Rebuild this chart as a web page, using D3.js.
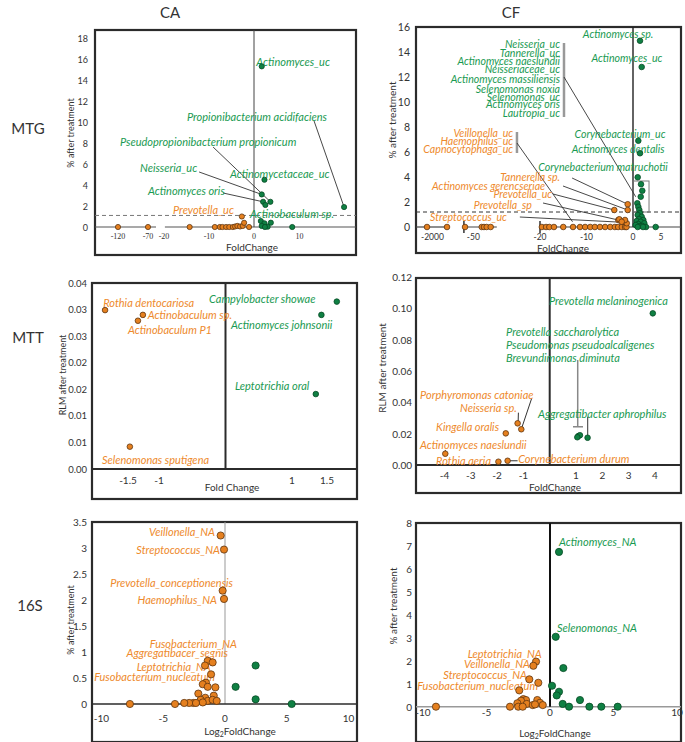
<!DOCTYPE html>
<html><head><meta charset="utf-8">
<script src="https://cdn.jsdelivr.net/npm/d3@7"></script>
<style>body{margin:0;background:#fff}svg{display:block}text{font-family:Lato,"Open Sans",sans-serif}</style>
</head><body>
<script>
// ---------------- DATA ----------------
// MTG / CA
const mtgCA_down = [[-120,0],[-70,0],[-14.3,0],[-8.7,0],[-7.6,0],[-7.0,0],[-6.2,0],[-5.5,0],[-4.7,0],[-4.2,0.05],[-3.7,0.1],[-3.1,0.05],[-2.5,0.1],[-2.2,0.4],[-1.1,0],[-2.7,1.0]];
const mtgCA_up = [[1.7,15.3],[19.8,1.9],[2.3,4.5],[1.7,3.1],[3.6,2.4],[2.0,2.4],[2.5,2.1],[1.5,0.57],[2.3,0.35],[3.7,0.41],[1.7,0.1],[3.0,0.03],[2.4,0],[8.4,0]];
const mtgCA_xTicks = [-120,-70,-20,-10,0,10];
const mtgCA_yTicks = [0,2,4,6,8,10,12,14,16,18];
// MTG / CF
const mtgCF_down = [[-2000,0],[-1000,0],[-58.9,0],[-41,0],[-38.6,0],[-35.7,0],[-31.4,0],
  [-19.6,0],[-18.7,0],[-18.0,0],[-17.0,0],[-15.0,0],[-12.9,0],[-11.4,0],[-10.3,0],[-9.2,0],[-8.2,0],[-7.1,0],[-6.0,0],[-4.9,0],[-3.9,0],[-3.2,0],[-2.4,0],[-1.7,0],[-1.4,0],
  [-1.14,1.82],[-1.14,1.36],[-4.02,1.36],[-3.16,0.56],[-2.15,0.42],[-1.35,0.3],[-2.95,0.62],[-1.72,0.56],[-2.43,0.42]];
const mtgCF_up = [[1.25,14.9],[1.55,12.8],[0.95,6.9],[1.25,5.9],
  [0.84,3.98],[1.43,3.42],[1.66,2.9],[1.38,2.42],[0.77,1.9],[0.95,1.62],[1.13,1.36],[1.25,1.1],[0.84,0.96],[1.55,0.82],[1.07,0.64],[1.84,0.56],[0.66,0.48],[1.38,0.42],[2.02,0.3],[0.95,0.24],[0.48,0.16],[1.25,0.08],[1.66,0.08],[2.32,0],[4.05,0],[0.84,0],[1.79,0]];
const mtgCF_xTicks = [-2000,-50,-20,-10,0,5];
const mtgCF_yTicks = [0,2,4,6,8,10,12,14,16];
// MTT / CA
const mttCA_down = [[-1.87,0.0299],[-1.26,0.029],[-1.34,0.0279],[-1.47,0.0042]];
const mttCA_up = [[1.64,0.0315],[1.42,0.029],[1.34,0.0141]];
const mttCA_xTicks = [-1.5,-1,1,1.5];
const mttCA_yTicks = [0,0.005,0.01,0.015,0.02,0.025,0.03,0.035];
const mttCA_yTickLabels = ["0.00","0.01","0.01","0.02","0.02","0.03","0.03","0.04"];
// MTT / CF
const mttCF_down = [[-1.08,0.0228],[-1.22,0.0266],[-1.67,0.0202],[-3.97,0.0072],[-1.95,0.0021],[-1.6,0.0027]];
const mttCF_up = [[3.92,0.0968],[1.44,0.0174],[1.09,0.0185],[1.15,0.019],[1.05,0.0177]];
const mttCF_xTicks = [-4,-3,-2,-1,1,2,3,4];
const mttCF_yTicks = [0,0.02,0.04,0.06,0.08,0.10,0.12];
// 16S / CA
const s16CA_down = [[-0.35,3.24],[-0.08,2.97],[-0.19,2.18],[-0.08,2.02],[-1.4,0.83],[-1.0,0.8],[-1.62,0.74],[-1.13,0.57],[-1.54,0.41],[-1.8,0.38],[-1.4,0.33],[-0.78,0.32],[-2.16,0.2],[-1.6,0.12],[-0.91,0.16],[-1.97,0.08],[-1.4,0.06],[-1.0,0.08],[-0.67,0.06],[-2.56,0.02],[-1.8,0.03],[-2.9,0.02],[-3.3,0.02],[-2.35,0.02],[-4.05,0],[-7.7,0]];
const s16CA_up = [[2.48,0.74],[0.86,0.33],[2.48,0.09],[5.4,0]];
const s16CA_xTicks = [-10,-5,0,5,10];
const s16CA_yTicks = [0,0.5,1,1.5,2,2.5,3,3.5];
// 16S / CF
const s16CF_down = [[-1.10,1.96],[-1.31,1.78],[-1.63,1.19],[-0.92,1.04],[-2.42,0.71],[-2.1,0.33],[-1.89,0.29],[-2.28,0.26],[-2.57,0.15],[-1.0,0.29],[-0.79,0.17],[-0.57,0.07],[-1.83,0.12],[-1.36,0.07],[-1.18,0.10],[-2.5,0],[-2.15,0],[-3.15,0],[-8.98,0]];
const s16CF_up = [[0.71,6.73],[0.45,3.04],[1.05,1.68],[0.16,0.91],[0.71,0.65],[0.53,0.49],[2.36,0.29],[1.0,0.12],[1.5,0],[3.1,0],[4.04,0],[5.33,0]];
const s16CF_xTicks = [-10,-5,0,5,10];
const s16CF_yTicks = [0,1,2,3,4,5,6,7,8];

// ---------------- ANNOTATIONS (anchors in data units) ----------------
const mtgCA_labels = [
 {t:"Actinomyces_uc",x:8.6,y:15.74,a:"middle",c:"g"},
 {t:"Propionibacterium acidifaciens",x:-14.9,y:10.5,a:"start",c:"g"},
 {t:"Pseudopropionibacterium propionicum",x:-116.7,y:8.1,a:"start",c:"g"},
 {t:"Neisseria_uc",x:-83.3,y:5.71,a:"start",c:"g"},
 {t:"Actinomycetaceae_uc",x:-5.33,y:5.05,a:"start",c:"g"},
 {t:"Actinomyces oris",x:-70,y:3.43,a:"start",c:"g"},
 {t:"Actinobaculum sp.",x:-0.89,y:1.33,a:"start",c:"g"},
 {t:"Prevotella_uc",x:-18,y:1.71,a:"start",c:"o"}];
const mtgCA_leaders = [[[13.2,10.1],[19.8,1.9]],[[-9.1,7.62],[3.6,2.4]],[[-12.2,5.24],[1.7,3.1]],[[-6.9,3.24],[2.0,2.4]]];

const mtgCF_labels = [
 {t:"Neisseria_uc",x:-15.7,y:14.64,a:"end",c:"g"},
 {t:"Tannerella_uc",x:-15.7,y:13.94,a:"end",c:"g"},
 {t:"Actinomyces naeslundii",x:-15.7,y:13.28,a:"end",c:"g"},
 {t:"Neisseriaceae_uc",x:-15.7,y:12.62,a:"end",c:"g"},
 {t:"Actinomyces massiliensis",x:-15.7,y:11.86,a:"end",c:"g"},
 {t:"Selenomonas noxia",x:-15.7,y:11.06,a:"end",c:"g"},
 {t:"Selenomonas_uc",x:-15.7,y:10.42,a:"end",c:"g"},
 {t:"Actinomyces oris",x:-15.7,y:9.84,a:"end",c:"g"},
 {t:"Lautropia_uc",x:-15.7,y:9.1,a:"end",c:"g"},
 {t:"Veillonella_uc",x:-25.6,y:7.52,a:"end",c:"o"},
 {t:"Haemophilus_uc",x:-25.6,y:6.88,a:"end",c:"o"},
 {t:"Capnocytophaga_uc",x:-25.6,y:6.24,a:"end",c:"o"},
 {t:"Tannerella sp.",x:-15.7,y:4.0,a:"end",c:"o"},
 {t:"Actinomyces gerencseriae",x:-18.9,y:3.28,a:"end",c:"o"},
 {t:"Prevotella_uc",x:-17.4,y:2.64,a:"end",c:"o"},
 {t:"Prevotella_sp",x:-21.7,y:1.76,a:"end",c:"o"},
 {t:"Streptococcus_uc",x:-26.9,y:0.8,a:"end",c:"o"},
 {t:"Actinomyces sp.",x:-3.2,y:15.44,a:"middle",c:"g"},
 {t:"Actinomyces_uc",x:-1.3,y:13.52,a:"middle",c:"g"},
 {t:"Corynebacterium_uc",x:-2.8,y:7.44,a:"middle",c:"g"},
 {t:"Actinomyces dentalis",x:-3.2,y:6.24,a:"middle",c:"g"},
 {t:"Corynebacterium matruchotii",x:-6.45,y:4.8,a:"middle",c:"g"}];
const mtgCF_bars = [[[-14.84,14.72],[-14.84,8.8]],[[-24.8,7.6],[-24.8,5.92]]];
const mtgCF_leaders = [[[-14.84,12.0],[0.48,2.42]],[[-24.8,6.72],[-13.0,0.42]],[[-13.1,3.92],[-1.14,1.82]],[[-15.05,3.28],[-1.14,1.36]],[[-17.2,2.64],[-4.02,1.36]],[[-19.35,1.92],[-3.16,0.56]],[[-24.2,0.8],[-3.4,0.4]]];

const mttCA_labels = [
 {t:"Rothia dentocariosa",x:-1.90,y:0.03142,a:"start",c:"o"},
 {t:"Actinobaculum sp.",x:-1.18,y:0.02898,a:"start",c:"o"},
 {t:"Actinobaculum P1",x:-1.5,y:0.02616,a:"start",c:"o"},
 {t:"Selenomonas sputigena",x:-1.92,y:0.00188,a:"start",c:"o"},
 {t:"Campylobacter showae",x:-0.248,y:0.032,a:"start",c:"g"},
 {t:"Actinomyces johnsonii",x:0.083,y:0.0271,a:"start",c:"g"},
 {t:"Leptotrichia oral",x:0.143,y:0.01562,a:"start",c:"g"}];

const mttCF_labels = [
 {t:"Prevotella melaninogenica",x:-0.03,y:0.1049,a:"start",c:"g"},
 {t:"Prevotella saccharolytica",x:-1.66,y:0.0849,a:"start",c:"g"},
 {t:"Pseudomonas pseudoalcaligenes",x:-1.66,y:0.0766,a:"start",c:"g"},
 {t:"Brevundimonas diminuta",x:-1.66,y:0.0683,a:"start",c:"g"},
 {t:"Aggregatibacter aphrophilus",x:-0.445,y:0.033,a:"start",c:"g"},
 {t:"Porphyromonas catoniae",x:-4.93,y:0.0447,a:"start",c:"o"},
 {t:"Neisseria sp.",x:-3.41,y:0.0366,a:"start",c:"o"},
 {t:"Kingella oralis",x:-4.32,y:0.0244,a:"start",c:"o"},
 {t:"Actinomyces naeslundii",x:-4.93,y:0.0128,a:"start",c:"o"},
 {t:"Rothia aeria",x:-4.32,y:0.0027,a:"start",c:"o"},
 {t:"Corynebacterium durum",x:-1.2,y:0.0043,a:"start",c:"o"}];
const mttCF_bars = [[[1.065,0.067],[1.065,0.0244]],[[0.886,0.0244],[1.266,0.0244]]];
const mttCF_leaders = [[[1.445,0.0308],[1.445,0.0181]],[[-0.684,0.0426],[-1.08,0.0228]],[[-1.19,0.0334],[-1.2,0.0272]],[[-3.97,0.0096],[-3.97,0.0072]],[[-1.57,0.0027],[-1.22,0.0027]]];

const s16CA_labels = [
 {t:"Veillonella_NA",x:-0.81,y:3.313,a:"end",c:"o"},
 {t:"Streptococcus_NA",x:-0.40,y:2.962,a:"end",c:"o"},
 {t:"Prevotella_conceptionensis",x:0.65,y:2.327,a:"end",c:"o"},
 {t:"Haemophilus_NA",x:-0.65,y:2.019,a:"end",c:"o"},
 {t:"Fusobacterium_NA",x:0.97,y:1.173,a:"end",c:"o"},
 {t:"Aggregatibacer_segnis",x:0.24,y:0.987,a:"end",c:"o"},
 {t:"Leptotrichia_NA",x:-1.16,y:0.717,a:"end",c:"o"},
 {t:"Fusobacterium_nucleatum",x:-0.81,y:0.525,a:"end",c:"o"}];
const s16CF_labels = [
 {t:"Actinomyces_NA",x:0.71,y:7.17,a:"start",c:"g"},
 {t:"Selenomonas_NA",x:0.55,y:3.45,a:"start",c:"g"},
 {t:"Leptotrichia_NA",x:-0.65,y:2.32,a:"end",c:"o"},
 {t:"Veillonella_NA",x:-1.57,y:1.86,a:"end",c:"o"},
 {t:"Streptococcus_NA",x:-1.81,y:1.42,a:"end",c:"o"},
 {t:"Fusobacterium_nucleatum",x:-0.94,y:0.94,a:"end",c:"o"}];

// ---------------- DRAWING ----------------
const GT="#1a9a52", OT="#ee8a2d", GD="#0f8043", OD="#e5801f", GS="#064a24", OS="#5e3510";
const svg = d3.select("body").append("svg").attr("width",685).attr("height",742);

function frame(f){svg.append("rect").attr("x",f[0]).attr("y",f[1]).attr("width",f[2]-f[0]).attr("height",f[3]-f[1]).attr("fill","none").attr("stroke","#2b2b2b").attr("stroke-width",2.2);}
function hline(x0,x1,y,col,w,dash){const l=svg.append("line").attr("x1",x0).attr("x2",x1).attr("y1",y).attr("y2",y).attr("stroke",col).attr("stroke-width",w);if(dash)l.attr("stroke-dasharray",dash);return l;}
function vline(x,y0,y1,col,w){return svg.append("line").attr("x1",x).attr("x2",x).attr("y1",y0).attr("y2",y1).attr("stroke",col).attr("stroke-width",w);}
function dots(data,x,y,r,fill,stroke){svg.append("g").selectAll("circle").data(data).join("circle").attr("cx",d=>x(d[0])).attr("cy",d=>y(d[1])).attr("r",r).attr("fill",fill).attr("stroke",stroke).attr("stroke-width",0.8);}
function labels(arr,x,y,size){svg.append("g").selectAll("text").data(arr).join("text").attr("x",d=>x(d.x)).attr("y",d=>y(d.y)).attr("text-anchor",d=>d.a).attr("dominant-baseline","central").attr("font-style","italic").attr("font-size",size).attr("fill",d=>d.c==="g"?GT:OT).text(d=>d.t);}
function segs(arr,x,y,col,w){svg.append("g").selectAll("line").data(arr).join("line").attr("x1",d=>x(d[0][0])).attr("y1",d=>y(d[0][1])).attr("x2",d=>x(d[1][0])).attr("y2",d=>y(d[1][1])).attr("stroke",col).attr("stroke-width",w);}
function yTicks(vals,labs,y,xr,size){svg.append("g").selectAll("text").data(vals).join("text").attr("x",xr).attr("y",d=>y(d)).attr("text-anchor","end").attr("dominant-baseline","central").attr("font-size",size).attr("fill","#333").text((d,i)=>labs?labs[i]:d);}
function xTicks(vals,x,yp,size,fam,minLeft){svg.append("g").selectAll("text").data(vals).join("text").attr("x",d=>x(d)).attr("y",yp).attr("text-anchor","middle").attr("dominant-baseline","central").attr("font-size",size).attr("fill","#333").style("font-family",fam||null).text(d=>d)
  .each(function(d){ if(minLeft!=null){const w=this.getComputedTextLength(); const cx=x(d); if(cx-w/2<minLeft) d3.select(this).attr("x",minLeft+w/2);} });}
function txt(x,y,s,size,opt){const t=svg.append("text").attr("x",x).attr("y",y).attr("text-anchor","middle").attr("dominant-baseline","central").attr("font-size",size).attr("fill","#333").text(s);if(opt&&opt.rot)t.attr("transform",`rotate(-90,${x},${y})`);return t;}
function log2title(x,y,size){const t=svg.append("text").attr("x",x).attr("y",y).attr("text-anchor","middle").attr("dominant-baseline","central").attr("font-size",size).attr("fill","#333");t.append("tspan").text("Log");t.append("tspan").attr("font-size",size*0.7).attr("dy",3).text("2");t.append("tspan").attr("dy",-3).text("FoldChange");}

// headers
txt(170,12,"CA",15); txt(511,12,"CF",15);
txt(28,128,"MTG",15); txt(28,337,"MTT",15); txt(30,605,"16S",15);

// ---- Panel A: MTG CA ----
{
 const F=[95,30,356,255];
 const x=d3.scaleLinear().domain([-120,-70,-20,0,20]).range([118,148,164,254,345]);
 const y=d3.scaleLinear().domain([0,18]).range([227,38]);
 frame(F);
 hline(F[0],x(-45),y(0),"#555",1.2); hline(x(-19.8),F[2],y(0),"#555",1.2);
 vline(x(0),F[1],y(0),"#444",1);
 hline(F[0],F[2],y(1.1),"#777",1,"4,3");
 segs(mtgCA_leaders,x,y,"#333",0.9);
 labels(mtgCA_labels,x,y,11);
 dots(mtgCA_down,x,y,2.6,OD,OS); dots(mtgCA_up,x,y,2.6,GD,GS);
 xTicks(mtgCA_xTicks,x,236,8,"'Liberation Serif',serif");
 yTicks(mtgCA_yTicks,null,y,88,9);
 txt(252,247,"FoldChange",10);
 txt(70,133,"% after treatment",9,{rot:true});
}
// ---- Panel B: MTG CF ----
{
 const F=[416,27,681,253];
 const x=d3.scaleLinear().domain([-2000,-1000,-60,-30,-20,0,10]).range([427,447,464,492,540,633,689]);
 const y=d3.scaleLinear().domain([0,16]).range([227,27]);
 frame(F);
 hline(F[0],x(-950),y(0),"#444",1.2); hline(x(-65),x(-29),y(0),"#444",1.2); hline(x(-20),F[2],y(0),"#444",1.2);
 vline(x(-65),y(0)-6,y(0)+6,"#333",1.5); vline(x(-20),y(0)-6,y(0)+6,"#333",1.5);
 vline(x(0),F[1],y(0),"#222",1.4);
 hline(F[0],F[2],y(1.2),"#333",1,"4,3");
 svg.append("rect").attr("x",x(0)).attr("y",y(3.68)).attr("width",x(2.86)-x(0)).attr("height",y(1.2)-y(3.68)).attr("fill","none").attr("stroke","#777").attr("stroke-width",1);
 segs(mtgCF_bars,x,y,"#999",2.5);
 segs(mtgCF_leaders,x,y,"#333",0.9);
 labels(mtgCF_labels,x,y,10.6);
 dots(mtgCF_down,x,y,2.8,OD,OS); dots(mtgCF_up,x,y,2.8,GD,GS);
 xTicks(mtgCF_xTicks,x,237,8.5,null,F[0]+5);
 yTicks(mtgCF_yTicks,null,y,410,10.5);
 txt(563,248,"FoldChange",10);
 txt(392,120,"% after treatment",10,{rot:true});
}
// ---- Panel C: MTT CA ----
{
 const F=[92,283,357,499];
 const x=d3.scaleLinear().domain([-2,-1.5,-1,1,1.5,2]).range([97,128,159,292,327,362]);
 const y=d3.scaleLinear().domain([0,0.035]).range([469,283]);
 frame(F);
 hline(F[0],F[2],y(0),"#2b2b2b",2); vline(x(0),F[1],y(0),"#2b2b2b",2);
 labels(mttCA_labels,x,y,11);
 dots(mttCA_down,x,y,2.8,OD,OS); dots(mttCA_up,x,y,2.8,GD,GS);
 xTicks(mttCA_xTicks,x,480,10);
 yTicks(mttCA_yTicks,mttCA_yTickLabels,y,87,9.5);
 txt(232,487,"Fold Change",10);
 txt(62,375,"RLM after treatment",9,{rot:true});
}
// ---- Panel D: MTT CF ----
{
 const F=[416,278,681,493];
 const x=d3.scaleLinear().domain([-5,5]).range([418.2,681.2]);
 const y=d3.scaleLinear().domain([0,0.12]).range([465,277]);
 frame(F);
 hline(F[0],F[2],y(0),"#2b2b2b",2); vline(x(0),F[1],y(0),"#2b2b2b",2);
 segs(mttCF_bars,x,y,"#888",1.5);
 segs(mttCF_leaders,x,y,"#333",1);
 labels(mttCF_labels,x,y,11);
 dots(mttCF_down,x,y,2.8,OD,OS); dots(mttCF_up,x,y,2.8,GD,GS);
 xTicks(mttCF_xTicks,x,475,10);
 yTicks(mttCF_yTicks,mttCF_yTicks.map(d=>d.toFixed(2)),y,412,10);
 txt(555,487,"FoldChange",10);
 txt(382,368,"RLM after treatment",10,{rot:true});
}
// ---- Panel E: 16S CA ----
{
 const F=[92,522,357,742];
 const x=d3.scaleLinear().domain([-10,10]).range([101.5,348.5]);
 const y=d3.scaleLinear().domain([0,3.5]).range([704,522]);
 frame(F);
 vline(x(0),F[1],y(0),"#999",1);
 hline(F[0],F[2],y(0),"#2b2b2b",1.6);
 labels(s16CA_labels,x,y,11);
 dots(s16CA_down,x,y,3.6,OD,OS); dots(s16CA_up,x,y,3.6,GD,GS);
 xTicks(s16CA_xTicks,x,718,10);
 yTicks(s16CA_yTicks,null,y,87,10);
 log2title(240,731,10);
 txt(70,620,"% after treatment",9,{rot:true});
}
// ---- Panel F: 16S CF ----
{
 const F=[416,523,681,742];
 const x=d3.scaleLinear().domain([-10,10]).range([423,677]);
 const y=d3.scaleLinear().domain([0,8]).range([706.7,522.7]);
 frame(F);
 hline(F[0],F[2],y(0),"#999",1.4);
 vline(x(0),F[1],y(0),"#111",2);
 labels(s16CF_labels,x,y,11);
 dots(s16CF_down,x,y,3.6,OD,OS); dots(s16CF_up,x,y,3.6,GD,GS);
 xTicks(s16CF_xTicks,x,712,10);
 yTicks(s16CF_yTicks,null,y,412,10);
 log2title(555,733,10);
 txt(393,606,"% after treatment",10,{rot:true});
}
</script></body></html>
